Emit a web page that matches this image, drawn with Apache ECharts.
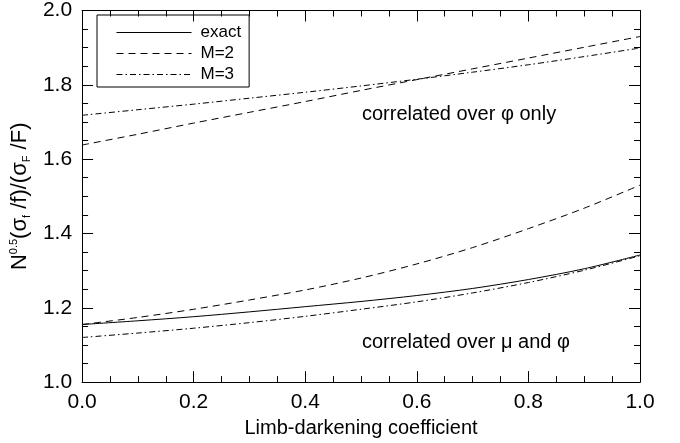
<!DOCTYPE html>
<html>
<head>
<meta charset="utf-8">
<script src="https://cdn.jsdelivr.net/npm/echarts@6/dist/echarts.min.js"></script>
<style>
  html, body { margin: 0; padding: 0; background: #fff; }
  #chart { width: 680px; height: 443px; }
</style>
</head>
<body>
<div id="chart"></div>
<script>
// limb-darkening coefficient
const coef = [0, 0.1, 0.2, 0.3, 0.4, 0.5, 0.6, 0.7, 0.8, 0.9, 1.0];

// correlated over mu and phi
const exactLow = [1.155, 1.165, 1.176, 1.189, 1.203, 1.217, 1.233, 1.252, 1.276, 1.305, 1.342];
const m2Low = [1.155, 1.174, 1.196, 1.221, 1.248, 1.28, 1.318, 1.362, 1.413, 1.468, 1.53];
const m3Low = [1.12, 1.132, 1.145, 1.16, 1.177, 1.196, 1.216, 1.24, 1.268, 1.301, 1.34];

// correlated over phi only
const m2High = [1.638, 1.667, 1.697, 1.726, 1.755, 1.785, 1.814, 1.843, 1.872, 1.901, 1.93];
const m3High = [1.718, 1.733, 1.748, 1.764, 1.78, 1.797, 1.815, 1.834, 1.854, 1.876, 1.899];

const legendNames = ['exact', 'M=2', 'M=3'];

const font = 'Liberation Sans, Arial, Helvetica, sans-serif';
const dashed = [7, 5];
const dashDot = [6, 3, 1.5, 3];

function pairs(ys) {
  return coef.map((x, i) => [x, ys[i]]);
}

function line(name, ys, type) {
  return {
    name: name,
    type: 'line',
    data: pairs(ys),
    smooth: 0.3,
    symbol: 'none',
    lineStyle: { color: '#000', width: 1, type: type },
    itemStyle: { color: '#000' }
  };
}

function axisBase(show) {
  return {
    type: 'value',
    min: 0,
    max: 1,
    interval: 0.2,
    axisLine: { show: true, onZero: false, lineStyle: { color: '#000', width: 1 } },
    axisTick: { show: true, inside: true, length: 11, lineStyle: { color: '#000' } },
    minorTick: { show: true, splitNumber: 4, length: 6, lineStyle: { color: '#000' } },
    splitLine: { show: false },
    axisLabel: {
      show: show,
      color: '#000',
      fontFamily: font,
      fontSize: 21,
      margin: 10,
      formatter: v => v.toFixed(1)
    }
  };
}

let chart = echarts.init(document.getElementById('chart'));

let xBottom = axisBase(true);
xBottom.position = 'bottom';
xBottom.name = 'Limb-darkening coefficient';
xBottom.nameLocation = 'middle';
xBottom.nameGap = 31;
xBottom.nameTextStyle = { color: '#000', fontFamily: font, fontSize: 20 };

let xTop = axisBase(false);
xTop.position = 'top';

let yLeft = axisBase(true);
yLeft.min = 1;
yLeft.max = 2;
yLeft.position = 'left';
yLeft.name = 'N{sup|0.5}(σ{sub|f} /f)/(σ{sub|F} /F)';
yLeft.nameLocation = 'middle';
yLeft.nameRotate = 90;
yLeft.nameGap = 50;
yLeft.nameTextStyle = {
  color: '#000',
  fontFamily: font,
  fontSize: 22,
  rich: {
    sup: { fontFamily: font, fontSize: 11, color: '#000', verticalAlign: 'top', lineHeight: 24 },
    sub: { fontFamily: font, fontSize: 11, color: '#000', verticalAlign: 'bottom', lineHeight: 16 }
  }
};

let yRight = axisBase(false);
yRight.min = 1;
yRight.max = 2;
yRight.position = 'right';

let option = {
  animation: false,
  backgroundColor: '#fff',
  grid: { left: 81, right: 40, top: 5, bottom: 60, containLabel: false },
  xAxis: [xBottom, xTop],
  yAxis: [yLeft, yRight],
  legend: {
    data: legendNames,
    orient: 'vertical',
    left: 97,
    top: 15,
    padding: [9, 8, 4, 19],
    itemGap: 4,
    itemWidth: 75,
    itemHeight: 14,
    borderColor: '#000',
    borderWidth: 1,
    borderRadius: 0,
    selectedMode: false,
    itemStyle: { opacity: 0 },
    lineStyle: { color: '#000', width: 1 },
    textStyle: { color: '#000', fontFamily: font, fontSize: 17, padding: [0, 0, 0, 4] }
  },
  graphic: [
    {
      type: 'text',
      left: 362,
      top: 104,
      style: { text: 'correlated over φ only', fill: '#000', font: '20px ' + font }
    },
    {
      type: 'text',
      left: 362,
      top: 332,
      style: { text: 'correlated over μ and φ', fill: '#000', font: '20px ' + font }
    }
  ],
  series: [
    line('exact', exactLow, 'solid'),
    line('M=2', m2Low, dashed),
    line('M=3', m3Low, dashDot),
    line('M=2', m2High, dashed),
    line('M=3', m3High, dashDot)
  ]
};

chart.setOption(option);
</script>
</body>
</html>
